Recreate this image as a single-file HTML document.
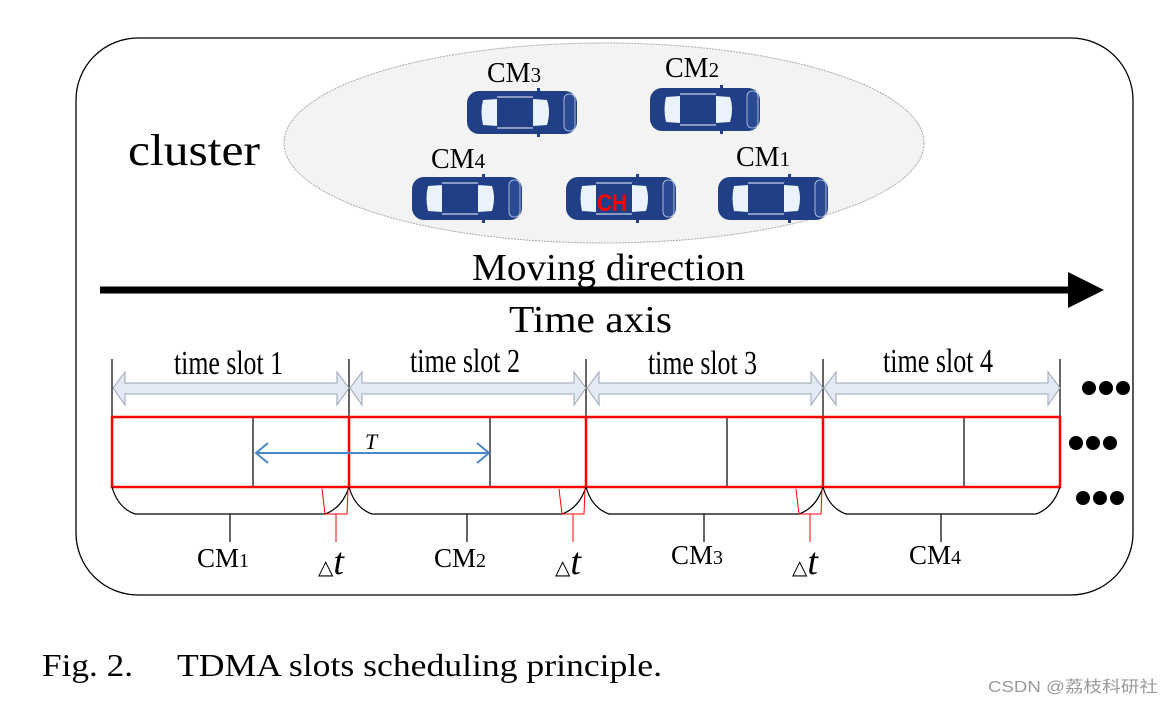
<!DOCTYPE html>
<html><head><meta charset="utf-8"><style>
html,body{margin:0;padding:0;background:#fff;width:1174px;height:705px;overflow:hidden}
svg{display:block}
text{font-family:"Liberation Serif",serif;fill:#000}
</style></head><body>
<svg width="1174" height="705" viewBox="0 0 1174 705" xmlns="http://www.w3.org/2000/svg">
<defs>
<g id="car">
<rect x="0" y="0" width="110" height="43" rx="12" fill="#203f86"/>
<rect x="97" y="3" width="11" height="37" rx="5" fill="#2a4a93" stroke="#c8d2e8" stroke-width="0.8"/>
<path d="M16 9 L30 8 L30 35 L16 34 Q13 21 16 9Z" fill="#eaf2fb"/>
<path d="M66 8 L80 9 Q84 21 80 34 L66 35Z" fill="#eaf2fb"/>
<path d="M30 6 L66 6 M30 37 L66 37" stroke="#c8d2e8" stroke-width="1.2"/>
<rect x="70" y="-3" width="3" height="4" fill="#203f86"/>
<rect x="70" y="42" width="3" height="4" fill="#203f86"/>
</g>
</defs>
<rect x="76" y="38" width="1057" height="557" rx="62" fill="#fff" stroke="#000" stroke-width="1.3"/>
<ellipse cx="604" cy="143" rx="320" ry="100" fill="#f3f3f3" stroke="#aaa" stroke-width="1" stroke-dasharray="2,1"/>
<text x="128" y="165" font-size="44" textLength="132" lengthAdjust="spacingAndGlyphs">cluster</text>
<use href="#car" x="467" y="91"/>
<use href="#car" x="650" y="88"/>
<use href="#car" x="412" y="177"/>
<use href="#car" x="566" y="177"/>
<use href="#car" x="718" y="177"/>
<text x="597" y="211" font-size="24" font-weight="bold" style="fill:#f00;font-family:'Liberation Sans',sans-serif" textLength="30" lengthAdjust="spacingAndGlyphs">CH</text>
<text x="487" y="82" font-size="28">CM<tspan font-size="21">3</tspan></text>
<text x="665" y="77" font-size="28">CM<tspan font-size="21">2</tspan></text>
<text x="431" y="168" font-size="28">CM<tspan font-size="21">4</tspan></text>
<text x="736" y="166" font-size="28">CM<tspan font-size="21">1</tspan></text>
<text x="472" y="280" font-size="38" textLength="273" lengthAdjust="spacingAndGlyphs">Moving direction</text>
<line x1="100" y1="290" x2="1070" y2="290" stroke="#000" stroke-width="7"/>
<polygon points="1068,272 1104,290 1068,308" fill="#000"/>
<text x="509" y="332" font-size="38" textLength="163" lengthAdjust="spacingAndGlyphs">Time  axis</text>
<g font-size="34">
<text x="174" y="374" textLength="109" lengthAdjust="spacingAndGlyphs">time slot 1</text>
<text x="410" y="372" textLength="110" lengthAdjust="spacingAndGlyphs">time slot 2</text>
<text x="648" y="374" textLength="109" lengthAdjust="spacingAndGlyphs">time slot 3</text>
<text x="883" y="372" textLength="110" lengthAdjust="spacingAndGlyphs">time slot 4</text>
</g>
<g stroke="#000" stroke-width="1.2">
<line x1="112" y1="359" x2="112" y2="417"/>
<line x1="349" y1="359" x2="349" y2="417"/>
<line x1="586" y1="359" x2="586" y2="417"/>
<line x1="823" y1="359" x2="823" y2="417"/>
<line x1="1060" y1="359" x2="1060" y2="417"/>
</g>
<g fill="#e3eaf5" stroke="#9aa4b0" stroke-width="1">
<path d="M113 388 L125 372 L125 383 L337 383 L337 372 L349 388 L337 405 L337 394 L125 394 L125 405 Z"/>
<path d="M350 388 L362 372 L362 383 L574 383 L574 372 L586 388 L574 405 L574 394 L362 394 L362 405 Z"/>
<path d="M587 388 L599 372 L599 383 L811 383 L811 372 L823 388 L811 405 L811 394 L599 394 L599 405 Z"/>
<path d="M824 388 L836 372 L836 383 L1048 383 L1048 372 L1060 388 L1048 405 L1048 394 L836 394 L836 405 Z"/>
</g>
<g stroke="#000" stroke-width="1.2">
<line x1="253" y1="417" x2="253" y2="487"/>
<line x1="490" y1="417" x2="490" y2="487"/>
<line x1="727" y1="417" x2="727" y2="487"/>
<line x1="964" y1="417" x2="964" y2="487"/>
</g>
<g fill="none" stroke="#f00" stroke-width="2.5">
<rect x="112" y="417" width="948" height="70"/>
<line x1="349" y1="417" x2="349" y2="487"/>
<line x1="586" y1="417" x2="586" y2="487"/>
<line x1="823" y1="417" x2="823" y2="487"/>
</g>
<g fill="none" stroke="#000" stroke-width="1.2">
<path d="M112 487 Q118 508 135 514 L325 514 Q342 508 349 487"/>
<path d="M349 487 Q355 508 372 514 L562 514 Q579 508 586 487"/>
<path d="M586 487 Q592 508 609 514 L799 514 Q816 508 823 487"/>
<path d="M823 487 Q829 508 846 514 L1036 514 Q1053 508 1060 487"/>
<line x1="230" y1="514" x2="230" y2="542"/>
<line x1="467" y1="514" x2="467" y2="542"/>
<line x1="704" y1="514" x2="704" y2="542"/>
<line x1="941" y1="514" x2="941" y2="542"/>
</g>
<g fill="none" stroke="#f00" stroke-width="1">
<path d="M322 489 L325 514 L347 514 L348 489"/>
<line x1="336" y1="514" x2="336" y2="542"/>
<path d="M559 489 L562 514 L584 514 L585 489"/>
<line x1="573" y1="514" x2="573" y2="542"/>
<path d="M796 489 L799 514 L821 514 L822 489"/>
<line x1="810" y1="514" x2="810" y2="542"/>
</g>
<line x1="256" y1="453" x2="489" y2="453" stroke="#4a86cc" stroke-width="2"/>
<path d="M268 443 L256 453 L268 463 M477 443 L489 453 L477 463" fill="none" stroke="#4a86cc" stroke-width="2"/>
<text x="365" y="449" font-size="22" font-style="italic">T</text>
<g font-size="27">
<text x="197" y="567">CM<tspan font-size="20">1</tspan></text>
<text x="434" y="567">CM<tspan font-size="20">2</tspan></text>
<text x="671" y="564">CM<tspan font-size="20">3</tspan></text>
<text x="909" y="564">CM<tspan font-size="20">4</tspan></text>
</g>
<g font-size="38" font-style="italic">
<text x="318" y="574"><tspan font-size="20" font-style="normal">△</tspan>t</text>
<text x="555" y="574"><tspan font-size="20" font-style="normal">△</tspan>t</text>
<text x="792" y="574"><tspan font-size="20" font-style="normal">△</tspan>t</text>
</g>
<g fill="#000">
<circle cx="1089" cy="388" r="7"/><circle cx="1106" cy="388" r="7"/><circle cx="1123" cy="388" r="7"/>
<circle cx="1076" cy="443" r="7"/><circle cx="1093" cy="443" r="7"/><circle cx="1110" cy="443" r="7"/>
<circle cx="1083" cy="498" r="7"/><circle cx="1100" cy="498" r="7"/><circle cx="1117" cy="498" r="7"/>
</g>
<text x="42" y="676" font-size="32" textLength="91" lengthAdjust="spacingAndGlyphs">Fig. 2.</text>
<text x="177" y="676" font-size="32" textLength="485" lengthAdjust="spacingAndGlyphs">TDMA slots scheduling principle.</text>
<text x="988" y="692" font-size="16" textLength="170" lengthAdjust="spacingAndGlyphs" style="fill:#999;font-family:'Liberation Sans','Noto Sans CJK SC',sans-serif">CSDN @荔枝科研社</text>
</svg>
</body></html>
